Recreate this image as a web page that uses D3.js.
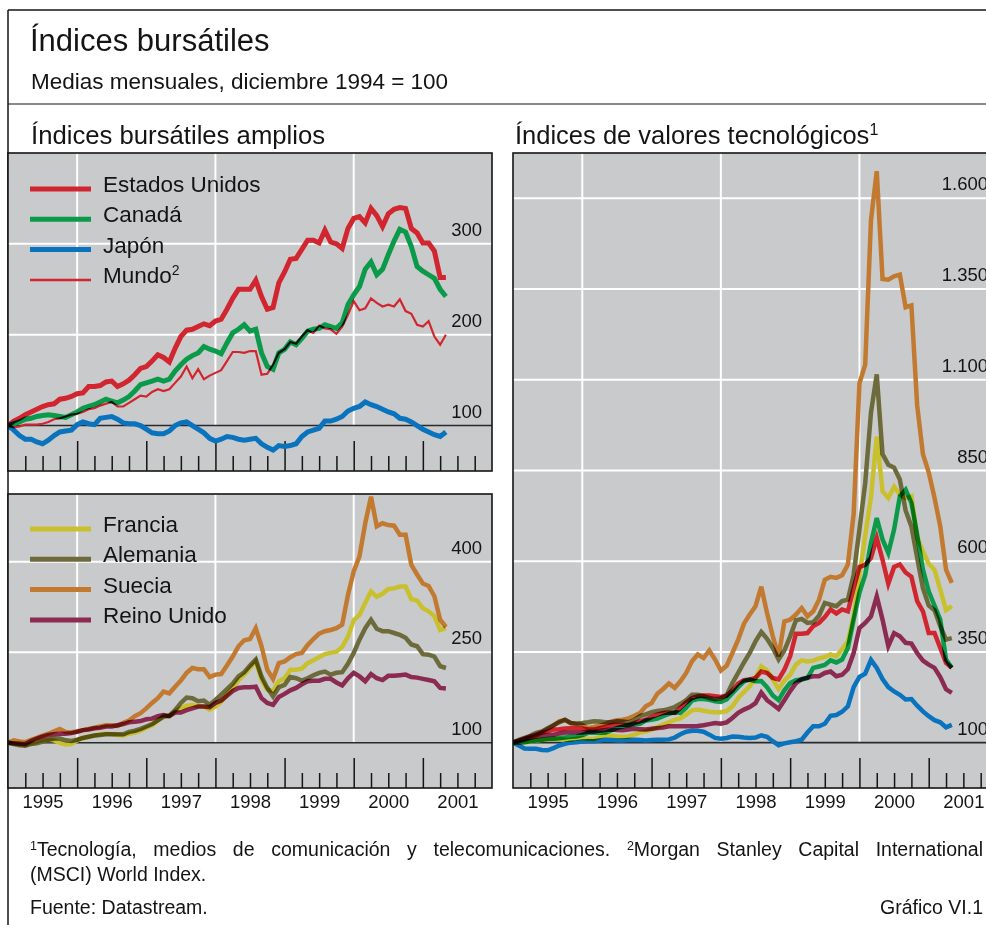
<!DOCTYPE html>
<html>
<head>
<meta charset="utf-8">
<script src="https://cdn.jsdelivr.net/npm/d3@7"></script>
<style>
  body { margin: 0; background: #fff; }
  svg { display: block; font-family: "Liberation Sans", Arial, sans-serif; }
</style>
</head>
<body>
<svg id="chart" width="986" height="925"></svg>
<script>
// DATOS (medias mensuales, dic 1994 = 100, 77 meses)
const years = [1995, 1996, 1997, 1998, 1999, 2000, 2001];
const gridYears = [1996, 1998, 2000];
const ticksTop = [100, 200, 300];
const ticksBottom = [100, 250, 400];
const ticksTech = [100, 350, 600, 850, 1100, 1350, 1600];

const usBroad = [100,105,108,112,115,118,121,123,124,129,130,132,135,136,143,143,144,148,149,143,146,150,156,163,165,171,178,175,170,185,198,205,206,209,212,210,215,217,228,240,250,250,250,260,242,228,230,257,269,283,284,294,304,304,301,315,302,300,295,317,328,330,323,339,331,319,333,338,340,339,317,312,301,301,292,263,263];
const canadaBroad = [100,102,104,107,108,110,111,112,111,110,109,112,115,119,121,123,126,129,127,125,128,132,138,145,147,149,151,149,151,160,167,173,177,180,187,184,182,179,191,202,206,211,204,206,180,165,162,180,184,192,189,196,204,206,207,211,209,207,213,233,244,253,272,280,266,272,288,303,316,313,297,275,270,266,262,250,242];
const japanBroad = [100,95,89,85,85,82,80,84,89,93,94,95,101,104,102,101,108,109,110,107,103,102,102,100,96,92,91,91,94,100,103,104,100,96,92,86,83,85,88,87,85,84,85,86,80,76,73,78,77,78,80,88,93,95,97,105,105,107,110,116,119,121,126,123,121,118,115,113,108,107,104,100,96,93,90,88,93];
const worldBroad = [100,98,99,101,101,101,102,104,107,108,110,112,113,115,118,119,122,124,126,121,121,125,129,133,132,137,140,138,140,147,154,165,152,162,151,155,158,161,171,181,181,180,182,182,156,157,167,180,184,192,190,198,205,202,210,207,206,201,209,222,237,227,229,240,235,231,233,231,239,226,223,211,209,215,198,189,200];

const franceBroad = [100,99,99,96,99,102,104,105,104,100,97,98,104,108,110,112,114,115,114,113,112,115,117,120,125,129,137,145,144,152,157,161,163,160,160,155,160,168,180,191,204,213,224,235,204,188,186,202,207,221,221,223,232,237,242,247,249,251,259,276,303,312,332,351,342,347,355,356,359,359,338,336,323,318,310,287,290];
const germanyBroad = [100,98,96,95,98,99,102,105,107,107,104,103,105,108,110,112,113,114,114,114,114,118,120,123,127,131,137,143,145,154,166,175,174,169,170,163,171,180,189,198,210,217,228,238,210,191,177,192,196,209,207,203,207,212,216,218,213,216,217,231,249,271,290,304,289,285,285,282,279,274,263,260,247,246,243,227,224];
const swedenBroad = [100,104,102,101,105,108,112,115,119,123,118,117,119,121,123,125,127,129,129,128,133,137,144,149,157,166,174,185,182,193,203,216,224,222,222,209,213,214,228,243,260,270,272,290,260,221,206,232,235,242,247,249,262,272,281,285,287,290,296,345,384,409,464,508,459,464,461,460,445,445,395,379,364,360,343,304,292];
const ukBroad = [100,99,98,98,103,107,110,113,114,115,115,116,118,121,122,124,125,127,127,129,131,134,135,136,139,140,144,146,144,150,150,154,157,160,160,159,166,170,178,186,191,192,192,193,174,166,163,176,181,187,191,197,202,203,203,206,206,200,195,207,216,210,202,214,207,204,211,211,212,213,209,208,206,204,202,191,190];

const usTech = [100,105,111,117,122,128,131,136,137,139,140,140,139,136,136,140,143,148,150,149,148,154,159,163,171,177,182,183,182,196,211,223,228,230,230,228,226,230,244,263,272,274,278,296,292,278,274,301,338,400,400,402,421,430,446,467,456,467,462,526,584,590,609,664,604,538,584,591,569,557,490,462,402,402,361,320,306];
const canadaTech = [100,100,101,104,106,108,110,111,112,114,116,117,121,127,128,127,128,134,140,144,148,150,152,161,163,166,173,179,184,182,196,216,220,220,218,214,212,219,236,253,269,274,269,270,253,230,217,244,264,272,274,278,306,310,314,327,321,329,361,439,513,563,650,719,660,623,687,779,797,761,673,577,517,478,439,329,306];
const japanTech = [100,92,84,83,83,80,79,85,92,97,100,101,103,104,104,106,108,107,106,106,107,108,107,106,107,108,108,109,114,123,130,133,133,130,122,113,111,113,117,116,114,113,114,120,116,104,93,98,101,104,108,128,145,145,152,174,176,185,200,253,281,290,328,306,275,253,241,232,219,220,202,186,173,162,156,142,149];
const franceTech = [100,100,101,104,106,108,109,110,110,108,108,111,113,111,110,116,121,120,117,116,117,122,128,131,136,143,150,156,163,167,177,189,191,188,185,184,184,187,200,223,239,255,278,310,299,274,248,271,287,315,327,324,326,332,336,343,338,358,379,450,560,670,776,944,793,774,805,784,774,779,664,627,593,577,522,465,476];
const germanyTech = [100,108,113,119,127,131,140,148,156,163,154,153,154,156,159,158,156,156,159,158,156,162,173,178,184,187,189,193,198,207,217,232,232,228,223,220,222,230,264,292,321,347,379,405,386,361,329,354,393,437,441,430,432,450,485,480,476,490,494,563,687,815,1010,1115,895,866,858,825,740,696,609,526,478,465,421,384,388];
const swedenTech = [100,105,108,113,119,128,138,147,159,163,154,151,149,140,143,147,152,158,162,163,167,174,182,200,209,235,248,263,251,269,292,324,343,333,354,329,299,312,347,384,428,453,476,530,457,393,338,434,439,453,471,448,462,494,549,557,554,561,591,730,1090,1142,1540,1675,1378,1376,1385,1390,1300,1305,1030,895,845,775,696,577,540];
const ukTech = [100,105,110,114,117,119,121,122,125,128,128,128,128,130,131,133,135,136,135,134,136,138,137,136,138,140,142,145,145,145,145,145,146,148,151,154,152,156,168,182,191,198,209,238,217,205,193,217,242,264,275,279,283,283,292,296,283,287,303,347,416,430,448,503,439,366,402,393,375,373,347,326,315,306,281,247,237];

// COLORES
const GRAY = "#c9cacc";
const INK = "#141414";
const col = {
  us: "#d1262f", ca: "#0b9a4a", jp: "#0a73bd", fr: "#c9c02e",
  de: "#6d6b3b", se: "#c27a30", uk: "#8b2b51"
};

const svg = d3.select("#chart");
const fmt = d3.formatLocale({ decimal: ",", thousands: ".", grouping: [3], currency: ["", ""] }).format(",");
const minorTicks = d3.range(1995.25, 2002, 0.25).filter(d => d % 1 !== 0);
const majorTicks = years.slice(1);

// MARCO
svg.append("line").attr("x1", 8).attr("x2", 986).attr("y1", 10).attr("y2", 10).attr("stroke", INK).attr("stroke-width", 1.5);
svg.append("line").attr("x1", 8).attr("x2", 8).attr("y1", 10).attr("y2", 925).attr("stroke", INK).attr("stroke-width", 1.5);
svg.append("line").attr("x1", 8).attr("x2", 986).attr("y1", 104).attr("y2", 104).attr("stroke", INK).attr("stroke-width", 1.2);

// TITULOS
svg.append("text").attr("x", 30).attr("y", 51).attr("font-size", 31).attr("fill", INK).text("Índices bursátiles");
svg.append("text").attr("x", 31).attr("y", 89).attr("font-size", 22.5).attr("fill", INK).text("Medias mensuales, diciembre 1994 = 100");
svg.append("text").attr("x", 31).attr("y", 144).attr("font-size", 25.7).attr("fill", INK).text("Índices bursátiles amplios");
const t2 = svg.append("text").attr("x", 515).attr("y", 144).attr("font-size", 25.5).attr("fill", INK);
t2.append("tspan").text("Índices de valores tecnológicos");
t2.append("tspan").attr("font-size", 16).attr("dy", -9).text("1");

// PANEL
function drawPanel(p) {
  const [x0, x1] = p.x.range();
  const [y1, y0] = p.y.range();
  const g = svg.append("g");

  svg.append("clipPath").attr("id", "clip-" + p.id)
    .append("rect").attr("x", x0).attr("y", y0).attr("width", x1 - x0).attr("height", y1 - y0);

  g.append("rect").attr("x", x0).attr("y", y0).attr("width", x1 - x0).attr("height", y1 - y0).attr("fill", GRAY);

  g.selectAll(".hgrid").data(p.ticks.filter(t => t !== 100)).join("line")
    .attr("x1", x0).attr("x2", x1)
    .attr("y1", d => p.y(d)).attr("y2", d => p.y(d))
    .attr("stroke", "#fff").attr("stroke-width", 2);

  g.selectAll(".vgrid").data(gridYears).join("line")
    .attr("x1", d => p.x(d)).attr("x2", d => p.x(d))
    .attr("y1", y0).attr("y2", p.y(100))
    .attr("stroke", "#fff").attr("stroke-width", 2);

  g.append("line").attr("x1", x0).attr("x2", x1).attr("y1", p.y(100)).attr("y2", p.y(100))
    .attr("stroke", "#2a2a2a").attr("stroke-width", 1.6);

  // MARCAS DEL EJE
  [[minorTicks, -15], [majorTicks, -30]].forEach(([vals, size]) => {
    g.append("g").attr("transform", `translate(0,${y1})`)
      .call(d3.axisBottom(p.x).tickValues(vals).tickSize(size).tickFormat(""))
      .call(a => a.select(".domain").remove())
      .selectAll("line").attr("stroke", INK).attr("stroke-width", 1.5);
  });

  // SERIES (sobreimpresión: multiply entre líneas)
  const line = d3.line().x((d, i) => p.x(1995 + i / 12)).y(d => p.y(d));
  g.append("g").attr("clip-path", `url(#clip-${p.id})`).style("isolation", "isolate")
    .selectAll("path").data(p.series).join("path")
    .attr("d", s => line(s.values))
    .attr("fill", "none")
    .attr("stroke", s => s.color)
    .attr("stroke-width", s => s.width)
    .style("mix-blend-mode", "multiply");

  // ETIQUETAS Y
  g.append("g").attr("transform", `translate(${x1 - 10},0)`)
    .call(d3.axisLeft(p.y).tickValues(p.ticks).tickSize(0).tickPadding(0).tickFormat(fmt))
    .call(a => a.select(".domain").remove())
    .selectAll("text")
    .attr("dy", null).attr("y", -8.5)
    .attr("font-size", 18.5).attr("font-family", "Liberation Sans, Arial, sans-serif").attr("fill", INK);

  g.append("rect").attr("x", x0).attr("y", y0).attr("width", x1 - x0).attr("height", y1 - y0)
    .attr("fill", "none").attr("stroke", INK).attr("stroke-width", 1.6);

  // LEYENDA
  if (p.legend) {
    p.series.filter(s => s.label).forEach((s, k) => {
      const ly = p.legend.y + k * p.legend.step;
      g.append("line").attr("x1", 30).attr("x2", 91).attr("y1", ly).attr("y2", ly)
        .attr("stroke", s.color).attr("stroke-width", s.legendWidth || 5);
      const t = g.append("text").attr("x", 103).attr("y", ly + 3).attr("font-size", 22.5).attr("fill", INK);
      t.append("tspan").text(s.label);
      if (s.sup) t.append("tspan").attr("font-size", 14).attr("dy", -8).text(s.sup);
    });
  }

  // AÑOS
  if (p.yearLabels) {
    g.append("g").attr("transform", `translate(0,${y1})`)
      .call(d3.axisBottom(p.x).tickValues(years.map(y => y + 0.5)).tickSize(0).tickFormat(d => Math.floor(d)))
      .call(a => a.select(".domain").remove())
      .selectAll("text")
      .attr("dy", null).attr("y", 20)
      .attr("font-size", 18.5).attr("font-family", "Liberation Sans, Arial, sans-serif").attr("fill", INK);
  }
}

const xBroad = d3.scaleLinear().domain([1995, 2002]).range([8, 492]);
const xTech = d3.scaleLinear().domain([1995, 2002]).range([513, 998]);

drawPanel({
  id: "top", x: xBroad, y: d3.scaleLinear().domain([50, 400]).range([471, 153]),
  ticks: ticksTop, legend: { y: 189, step: 30.3 }, yearLabels: false,
  series: [
    { label: "Estados Unidos", values: usBroad, color: col.us, width: 5 },
    { label: "Canadá", values: canadaBroad, color: col.ca, width: 5 },
    { label: "Japón", values: japanBroad, color: col.jp, width: 5 },
    { label: "Mundo", sup: "2", values: worldBroad, color: col.us, width: 2.2, legendWidth: 2.5 }
  ]
});

drawPanel({
  id: "bottom", x: xBroad, y: d3.scaleLinear().domain([25, 512.5]).range([788, 494]),
  ticks: ticksBottom, legend: { y: 529, step: 30.3 }, yearLabels: true,
  series: [
    { label: "Francia", values: franceBroad, color: col.fr, width: 4.5 },
    { label: "Alemania", values: germanyBroad, color: col.de, width: 4.5 },
    { label: "Suecia", values: swedenBroad, color: col.se, width: 4.5 },
    { label: "Reino Unido", values: ukBroad, color: col.uk, width: 4.5 }
  ]
});

drawPanel({
  id: "tech", x: xTech, y: d3.scaleLinear().domain([-25, 1725]).range([788, 153]),
  ticks: ticksTech, legend: null, yearLabels: true,
  series: [
    { values: japanTech, color: col.jp, width: 4.5 },
    { values: ukTech, color: col.uk, width: 4.5 },
    { values: franceTech, color: col.fr, width: 4.5 },
    { values: usTech, color: col.us, width: 4.5 },
    { values: canadaTech, color: col.ca, width: 4.5 },
    { values: germanyTech, color: col.de, width: 4.5 },
    { values: swedenTech, color: col.se, width: 4.5 }
  ]
});

// NOTAS
const fn1 = svg.append("text").attr("x", 30).attr("y", 856).attr("font-size", 19.5).attr("fill", INK);
fn1.append("tspan").attr("font-size", 12.5).attr("dy", -6).text("1");
fn1.append("tspan").attr("dy", 6).text("Tecnología, medios de comunicación y telecomunicaciones. ");
fn1.append("tspan").attr("font-size", 12.5).attr("dy", -6).text("2");
fn1.append("tspan").attr("dy", 6).text("Morgan Stanley Capital International");
const spaces = (fn1.text().match(/ /g) || []).length;
fn1.attr("word-spacing", Math.max(0, (953 - fn1.node().getComputedTextLength()) / spaces));

svg.append("text").attr("x", 30).attr("y", 881).attr("font-size", 19.5).attr("fill", INK).text("(MSCI) World Index.");
svg.append("text").attr("x", 30).attr("y", 914).attr("font-size", 19.5).attr("fill", INK).text("Fuente: Datastream.");
svg.append("text").attr("x", 983).attr("y", 914).attr("font-size", 19.5).attr("text-anchor", "end").attr("fill", INK).text("Gráfico VI.1");
</script>
</body>
</html>
